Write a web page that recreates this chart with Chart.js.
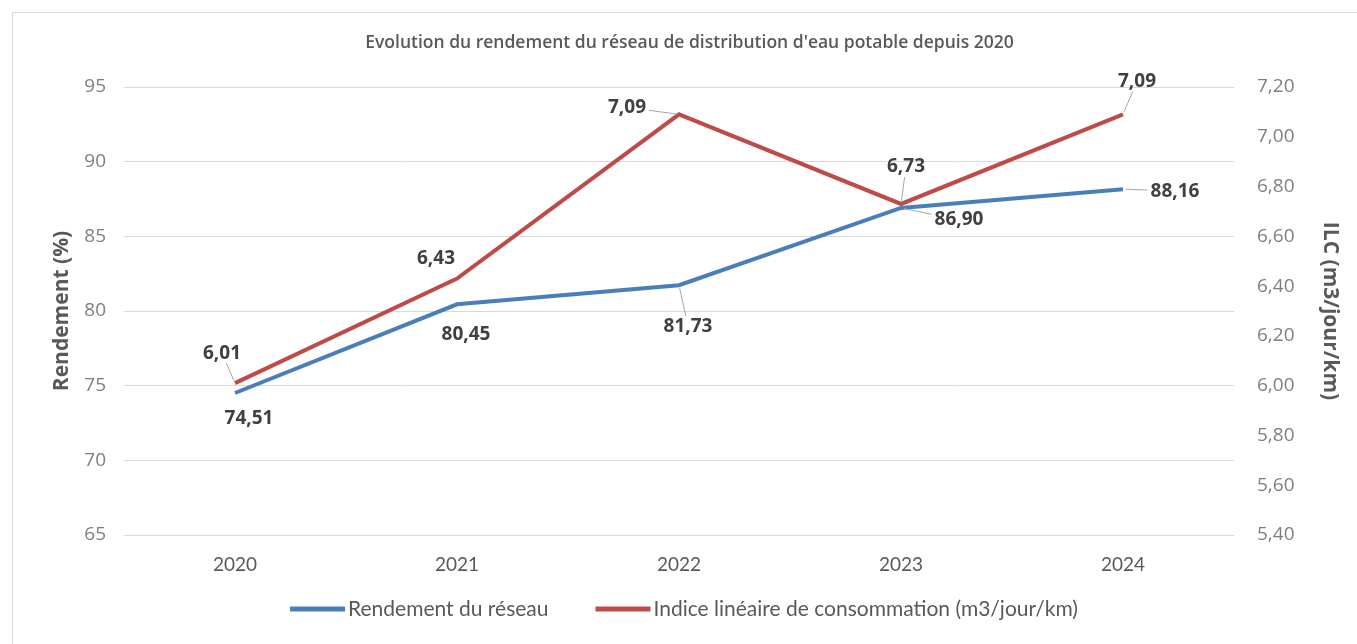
<!DOCTYPE html>
<html>
<head>
<meta charset="utf-8">
<script src="https://cdn.jsdelivr.net/npm/chart.js@4.4.1/dist/chart.umd.min.js"></script>
<style>
  html, body { margin: 0; padding: 0; background: #ffffff; }
  #wrap { width: 1357px; height: 644px; position: relative; }
  canvas { display: block; }
</style>
</head>
<body>
<div id="wrap"><canvas id="c" width="1357" height="644"></canvas></div>
<script>
// ---- Data ----
const categories = ['2020', '2021', '2022', '2023', '2024'];
const rendement = [74.51, 80.45, 81.73, 86.90, 88.16];
const ilc = [6.01, 6.43, 7.09, 6.73, 7.09];
const leftTicks = [65, 70, 75, 80, 85, 90, 95];
const rightTicks = [5.40, 5.60, 5.80, 6.00, 6.20, 6.40, 6.60, 6.80, 7.00, 7.20];

const titleText = "Evolution du rendement du réseau de distribution d'eau potable depuis 2020";
const seriesNames = ['Rendement du réseau', 'Indice linéaire de consommation (m3/jour/km)'];

// ---- Label placement (pixel offsets from each point, leader flags) ----
const labelPlacement = {
  0: { offsets: [[14, 26], [9, 30], [9, 41], [58, 12], [52, 2]], leaders: [false, false, true, true, true] },
  1: { offsets: [[-13, -30], [-21, -20], [-52, -7], [5, -37], [14, -33]], leaders: [true, false, true, true, true] }
};

const fmt = v => v.toFixed(2).replace('.', ',');
const fmtInt = v => String(Math.round(v));

const BLUE = '#4A7EBB';
const RED = '#BE4B48';

const borderPlugin = {
  id: 'frameBorder',
  beforeDraw(chart) {
    const ctx = chart.ctx;
    ctx.save();
    ctx.fillStyle = '#ffffff';
    ctx.fillRect(0, 0, chart.width, chart.height);
    ctx.strokeStyle = '#d9d9d9';
    ctx.lineWidth = 1;
    ctx.strokeRect(12.5, 12.5, chart.width, chart.height);
    ctx.restore();
  }
};

const dataLabelPlugin = {
  id: 'pointLabels',
  afterDatasetsDraw(chart) {
    const ctx = chart.ctx;
    ctx.save();
    ctx.font = 'bold 19px "Open Sans", sans-serif';
    ctx.textAlign = 'center';
    ctx.textBaseline = 'middle';
    chart.data.datasets.forEach((ds, di) => {
      const meta = chart.getDatasetMeta(di);
      const place = labelPlacement[di];
      meta.data.forEach((pt, i) => {
        const txt = fmt(ds.data[i]);
        const [ox, oy] = place.offsets[i];
        const cx = pt.x + ox, cy = pt.y + oy;
        if (place.leaders[i]) {
          const w = ctx.measureText(txt).width + 6;
          const h = 20;
          const dx = cx - pt.x, dy = cy - pt.y;
          const len = Math.hypot(dx, dy);
          const tx = dx !== 0 ? (w / 2) / Math.abs(dx) : Infinity;
          const ty = dy !== 0 ? (h / 2) / Math.abs(dy) : Infinity;
          const t = Math.min(tx, ty);
          const ex = cx - dx * t, ey = cy - dy * t;
          const sx = pt.x + dx / len * 3, sy = pt.y + dy / len * 3;
          if (Math.hypot(ex - sx, ey - sy) > 2 && t < 1) {
            ctx.strokeStyle = '#a6a6a6';
            ctx.lineWidth = 1;
            ctx.beginPath();
            ctx.moveTo(sx, sy);
            ctx.lineTo(ex, ey);
            ctx.stroke();
          }
        }
        ctx.fillStyle = '#404040';
        ctx.fillText(txt, cx, cy);
      });
    });
    ctx.restore();
  }
};

// Legend drawn in Excel style: line sample touching the text
const legendPlugin = {
  id: 'lineLegend',
  afterDraw(chart) {
    const ctx = chart.ctx;
    const area = chart.chartArea;
    ctx.save();
    ctx.font = '21px Lato, sans-serif';
    ctx.textAlign = 'left';
    ctx.textBaseline = 'middle';
    const sample = 55, gapText = 3, gapItem = 47;
    const y = area.bottom + 74;
    const items = chart.data.datasets.map(ds => ({ text: ds.label, color: ds.borderColor, w: ctx.measureText(ds.label).width }));
    const total = items.reduce((s, it) => s + sample + gapText + it.w, 0) + gapItem * (items.length - 1);
    let x = (area.left + area.right) / 2 + 5 - total / 2;
    items.forEach(it => {
      ctx.fillStyle = it.color;
      ctx.fillRect(x, y - 2.5, sample, 5);
      x += sample + gapText;
      ctx.fillStyle = '#595959';
      ctx.fillText(it.text, x, y);
      x += it.w + gapItem;
    });
    ctx.restore();
  }
};

new Chart(document.getElementById('c'), {
  type: 'line',
  data: {
    labels: categories,
    datasets: [
      {
        label: seriesNames[0],
        data: rendement,
        borderColor: BLUE,
        backgroundColor: BLUE,
        borderWidth: 4,
        pointRadius: 0,
        tension: 0,
        yAxisID: 'y'
      },
      {
        label: seriesNames[1],
        data: ilc,
        borderColor: RED,
        backgroundColor: RED,
        borderWidth: 4,
        pointRadius: 0,
        tension: 0,
        yAxisID: 'y1'
      }
    ]
  },
  options: {
    responsive: false,
    animation: false,
    devicePixelRatio: 1,
    layout: { padding: { left: 22, right: 0, top: 0, bottom: 64 } },
    plugins: {
      tooltip: { enabled: false },
      title: {
        display: true,
        text: titleText,
        color: '#595959',
        font: { family: '"Open Sans", sans-serif', size: 17.5, weight: '600' },
        padding: { top: 32.5, bottom: 33.5 }
      },
      legend: { display: false }
    },
    scales: {
      x: {
        offset: true,
        grid: { display: false, drawTicks: false },
        border: { display: false },
        ticks: { color: '#595959', font: { family: 'Lato, sans-serif', size: 19 }, padding: 18 },
        afterFit(scale) { scale.height = 45; }
      },
      y: {
        position: 'left',
        min: 65, max: 95,
        afterBuildTicks(scale) { scale.ticks = leftTicks.map(v => ({ value: v })); },
        grid: { color: '#d9d9d9', lineWidth: 1, drawTicks: false },
        border: { display: false },
        ticks: { color: '#7f7f7f', font: { family: '"Open Sans", sans-serif', size: 19 }, padding: 18, callback: v => fmtInt(v) },
        title: {
          display: true,
          text: 'Rendement (%)',
          color: '#595959',
          font: { family: '"Open Sans", sans-serif', size: 21, weight: 'bold' },
          padding: { top: 27, bottom: 0 }
        },
        afterFit(scale) { scale.width = 102; }
      },
      y1: {
        position: 'right',
        min: 5.4, max: 7.2,
        afterBuildTicks(scale) { scale.ticks = rightTicks.map(v => ({ value: v })); },
        grid: { display: false, drawTicks: false },
        border: { display: false },
        ticks: { color: '#7f7f7f', font: { family: '"Open Sans", sans-serif', size: 19 }, padding: 23, callback: v => fmt(v) },
        title: {
          display: true,
          text: 'ILC (m3/jour/km)',
          color: '#595959',
          font: { family: '"Open Sans", sans-serif', size: 21, weight: 'bold' },
          padding: { top: 14, bottom: 0 }
        },
        afterFit(scale) { scale.width = 123; }
      }
    }
  },
  plugins: [borderPlugin, dataLabelPlugin, legendPlugin]
});
</script>
</body>
</html>
